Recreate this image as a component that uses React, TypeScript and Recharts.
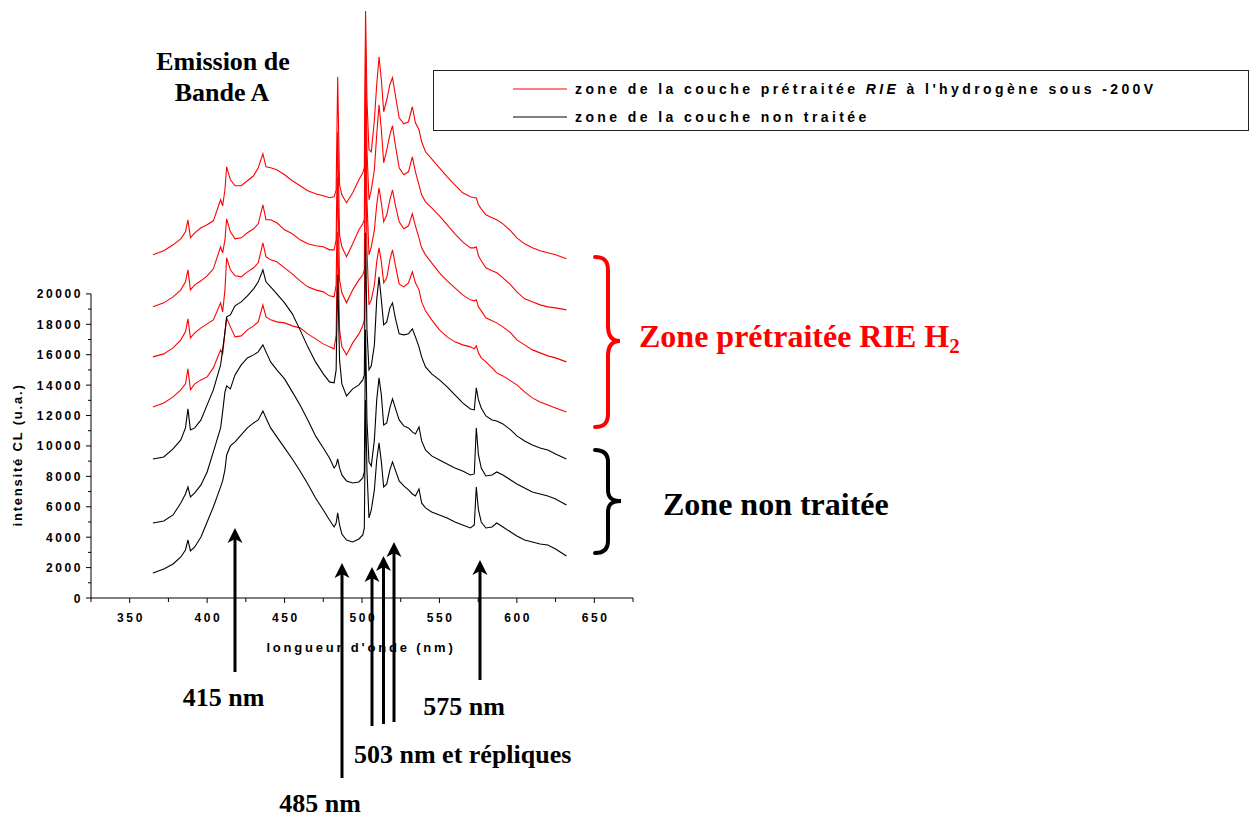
import React from "react";
import { LineChart, Line, XAxis, YAxis, ReferenceLine } from "recharts";

// wavelength grid (nm) shared by all spectra
const wavelengths = [
  365, 372, 378, 383, 386, 387.6, 389.2, 392, 396, 400, 404, 408.7, 410, 411.5, 412.6, 415, 418, 422, 426, 430,
  433, 436, 438, 441, 445, 450, 455, 460, 465, 470, 475, 479, 482, 483.3, 484.3, 485.5, 487, 490, 494, 498,
  500.5, 501.5, 502.3, 503.2, 504.5, 506, 508, 509.5, 511, 512.5, 514, 516, 518, 519.7, 521.5, 524, 527, 530,
  532.5, 534.5, 536.8, 538.5, 541, 545, 550, 555, 560, 565, 570, 572.5, 573.8, 575.2, 577, 580, 584, 587, 591,
  596, 600, 605, 610, 615, 620, 625, 632,
];

// zone non traitée (black)
const noir1 = [
  1645, 1908, 2237, 2698, 3158, 3816, 3093, 3356, 4014, 5000, 5988, 7304, 7699, 8422, 9409, 10002, 10265, 10725, 11186, 11515,
  11712, 12305, 11844, 11186, 10594, 9870, 9146, 8357, 7501, 6580, 5790, 5132, 4672, 4935, 5593, 4803, 4211, 3816, 3685, 3882,
  4145, 4606, 13028, 8422, 5264, 5790, 7106, 9080, 10199, 8949, 7304, 7501, 8422, 8949, 8422, 7699, 7370, 7106,
  6843, 6712, 7172, 6251, 5922, 5659, 5461, 5264, 5000, 4803, 4606, 4803, 7304, 5790, 5000, 4606, 4672, 4935, 4672,
  4343, 4080, 3816, 3685, 3553, 3487, 3224, 2764,
];
const noir2 = [
  4935, 5066, 5461, 6251, 6843, 7304, 6646, 6909, 7435, 8291, 9607, 11186, 12239, 13555, 13950, 13752, 14673, 15331, 15792, 15989,
  16187, 16647, 16187, 15529, 15002, 14410, 13555, 12699, 11712, 10660, 9870, 9212, 8554, 8751, 9146, 8554, 8093, 7699, 7567, 7633,
  7896, 8291, 17634, 11712, 8949, 8686, 10396, 13028, 14476, 13357, 11383, 11515, 12502, 13094, 12502, 11712, 11318, 11186,
  10923, 10791, 11252, 10331, 9738, 9344, 9080, 8817, 8554, 8357, 8093, 8159, 11186, 9409, 8554, 8028, 8093, 8291, 8093,
  7764, 7501, 7238, 6975, 6843, 6712, 6514, 6119,
];
const noir3 = [
  9146, 9278, 9804, 10396, 11186, 12436, 11054, 11186, 11712, 12699, 13686, 15331, 16318, 17503, 18490, 18621, 19214, 19477, 19872, 20332,
  20793, 21582, 20793, 20464, 20003, 19411, 18687, 17634, 16516, 15529, 14739, 14213, 14147, 15002, 21253, 15660, 14081, 13292, 13752, 14015,
  14344, 14673, 24017, 17634, 15002, 15266, 16647, 19608, 21122, 19608, 17963, 18161, 19082, 19411, 18424, 17371, 17305, 17371,
  17700, 17174, 16516, 15858, 15200, 14739, 14344, 13884, 13357, 12831, 12436, 12370, 13818, 13028, 12502, 11976, 11712, 11647, 11449,
  11054, 10660, 10331, 10067, 9870, 9738, 9475, 9146,
];

// zone prétraitée RIE H2 (red)
const rouge1 = [
  12568, 12831, 13226, 13686, 14081, 15068, 13686, 14081, 14344, 14542, 15134, 16318, 16055, 17437, 18424, 17832, 17174, 17240, 17634, 17898,
  18161, 19279, 18490, 18292, 18161, 18095, 17898, 17766, 17371, 17042, 16713, 16516, 16384, 17305, 24083, 17634, 16516, 15989, 16779, 17371,
  17898, 18292, 30136, 22898, 19279, 19608, 20595, 22109, 23030, 22109, 20727, 21056, 22240, 22898, 21911, 20661, 20464, 20727,
  21451, 20727, 20266, 19477, 18885, 18292, 17634, 17174, 16845, 16647, 16516, 16384, 16582, 16121, 15792, 15529, 15134, 14805, 14608,
  14279, 14015, 13555, 13160, 12897, 12699, 12502, 12239,
];
const rouge2 = [
  15858, 16055, 16450, 16976, 17503, 18358, 17108, 17437, 17766, 18029, 18292, 19411, 18819, 20266, 22372, 21582, 21188, 21122, 21451, 21714,
  22043, 23359, 22438, 22240, 22109, 21714, 21319, 20859, 20464, 20266, 20135, 19872, 19806, 20595, 27702, 20924, 20069, 19411, 20266, 20924,
  21253, 21582, 33426, 26188, 22569, 23096, 24214, 25859, 26978, 25991, 24741, 25201, 26188, 26846, 25859, 24741, 24280, 24478,
  25267, 24478, 23688, 23030, 22569, 22043, 21385, 20859, 20398, 19937, 19608, 19543, 19608, 19148, 18885, 18424, 18227, 18095, 17832,
  17437, 16976, 16647, 16318, 16121, 15924, 15792, 15529,
];
const rouge3 = [
  19148, 19411, 19806, 20266, 20793, 21582, 20266, 20595, 20859, 21188, 21648, 23096, 22701, 23556, 24938, 24083, 23622, 23688, 24017, 24280,
  24609, 25859, 24872, 24872, 24675, 24214, 23951, 23556, 23293, 23162, 23096, 22898, 22898, 23556, 30663, 23885, 23096, 22438, 23293, 24214,
  24609, 24872, 36387, 29478, 26188, 26846, 28162, 30465, 32439, 30794, 28623, 29478, 30465, 31058, 29807, 28294, 27833, 28031,
  29018, 28031, 27175, 26517, 26057, 25662, 25136, 24543, 23951, 23425, 23030, 23030, 23096, 22504, 22175, 21714, 21517, 21385, 21056,
  20595, 20135, 19674, 19477, 19279, 19148, 19082, 18950,
];
const rouge4 = [
  22569, 22833, 23227, 23622, 24083, 24872, 23688, 24017, 24346, 24543, 24807, 26188, 25794, 26846, 28360, 27504, 27110, 27110, 27439, 27768,
  28294, 29215, 28360, 28294, 28162, 27833, 27439, 27110, 26781, 26583, 26452, 26320, 26386, 26846, 34282, 27175, 26517, 25991, 26649, 27504,
  27965, 28294, 38600, 32768, 29478, 29347, 31452, 33755, 35598, 34084, 31979, 32768, 33755, 34216, 33097, 31584, 31189, 31321,
  32308, 31255, 30794, 30005, 29347, 28886, 28294, 27702, 27175, 26649, 26386, 26320, 26320, 25859, 25596, 25201, 25004, 24872, 24609,
  24149, 23688, 23293, 23030, 22833, 22701, 22569, 22306,
];

const xTicks = [325, 350, 375, 400, 425, 450, 475, 500, 525, 550, 575, 600, 625, 650, 675];
const yTicks = [
  0, 1000, 2000, 3000, 4000, 5000, 6000, 7000, 8000, 9000, 10000, 11000, 12000, 13000, 14000, 15000, 16000, 17000, 18000,
  19000, 20000,
];

const data = wavelengths.map((nm, i) => ({
  nm,
  n1: noir1[i],
  n2: noir2[i],
  n3: noir3[i],
  r1: rouge1[i],
  r2: rouge2[i],
  r3: rouge3[i],
  r4: rouge4[i],
}));

const W = 1251;
const H = 819;
const PLOT_LEFT = 91;
const PLOT_BOTTOM = 598;
const SANS = "'Liberation Sans', Arial, sans-serif";
const SERIF = "'Liberation Serif', 'Times New Roman', serif";

const YTick = (props: any) => {
  const { y, payload } = props;
  const v = payload.value;
  const major = v % 2000 === 0;
  return (
    <g>
      <line x1={PLOT_LEFT - (major ? 5 : 3)} x2={PLOT_LEFT} y1={y} y2={y} stroke="#000" />
      {major && (
        <text x={PLOT_LEFT - 8} y={y + 4.5} textAnchor="end" fontFamily={SANS} fontWeight="bold" fontSize={12} letterSpacing={2.6} fill="#000">
          {v}
        </text>
      )}
    </g>
  );
};

const XTick = (props: any) => {
  const { x, payload } = props;
  const v = payload.value;
  const major = v % 50 === 0;
  return (
    <g>
      <line x1={x} x2={x} y1={PLOT_BOTTOM} y2={PLOT_BOTTOM + (major ? 5 : 4)} stroke="#000" />
      {major && (
        <text x={x + 1.3} y={PLOT_BOTTOM + 23.5} textAnchor="middle" fontFamily={SANS} fontWeight="bold" fontSize={12} letterSpacing={2.6} fill="#000">
          {v}
        </text>
      )}
    </g>
  );
};

// annotation arrows: x, tip y, tail y (pixels)
const arrows = [
  [235, 528, 672],
  [342, 563, 778],
  [372, 567, 726],
  [383.5, 556, 724],
  [394, 542, 722],
  [480, 560, 680],
];

const Arrow = ({ x, tip, tail }: { x: number; tip: number; tail: number }) => (
  <g>
    <line x1={x} x2={x} y1={tip + 8} y2={tail} stroke="#000" strokeWidth={3} />
    <polygon points={`${x},${tip} ${x + 7.5},${tip + 15} ${x},${tip + 11} ${x - 7.5},${tip + 15}`} fill="#000" />
  </g>
);

export default function App() {
  return (
    <div style={{ position: "absolute", left: 0, top: 0, width: W, height: H, background: "#fff" }}>
      <div style={{ position: "absolute", left: 0, top: 0 }}>
        <LineChart width={W} height={H} data={data} margin={{ top: 5, right: W - 633, bottom: H - PLOT_BOTTOM - 30, left: PLOT_LEFT - 60 }}>
          <XAxis
            dataKey="nm"
            type="number"
            domain={[325, 675]}
            ticks={xTicks}
            interval={0}
            tick={<XTick />}
            tickLine={false}
            axisLine={{ stroke: "#000" }}
            height={30}
          />
          <YAxis
            type="number"
            domain={[0, 39000]}
            ticks={yTicks}
            interval={0}
            tick={<YTick />}
            tickLine={false}
            axisLine={false}
            width={60}
          />
          <ReferenceLine segment={[{ x: 325, y: 0 }, { x: 325, y: 20000 }]} stroke="#000" ifOverflow="visible" />
          <Line type="linear" dataKey="r4" stroke="#ff0000" strokeWidth={1.1} dot={false} isAnimationActive={false} />
          <Line type="linear" dataKey="r3" stroke="#ff0000" strokeWidth={1.1} dot={false} isAnimationActive={false} />
          <Line type="linear" dataKey="r2" stroke="#ff0000" strokeWidth={1.1} dot={false} isAnimationActive={false} />
          <Line type="linear" dataKey="r1" stroke="#ff0000" strokeWidth={1.1} dot={false} isAnimationActive={false} />
          <Line type="linear" dataKey="n3" stroke="#000" strokeWidth={1.1} dot={false} isAnimationActive={false} />
          <Line type="linear" dataKey="n2" stroke="#000" strokeWidth={1.1} dot={false} isAnimationActive={false} />
          <Line type="linear" dataKey="n1" stroke="#000" strokeWidth={1.1} dot={false} isAnimationActive={false} />
        </LineChart>
      </div>
      <svg width={W} height={H} style={{ position: "absolute", left: 0, top: 0, pointerEvents: "none" }}>
        {/* axis titles */}
        <text x={361} y={651.5} textAnchor="middle" fontFamily={SANS} fontWeight="bold" fontSize={13} letterSpacing={2.8} fill="#000">
          longueur d'onde (nm)
        </text>
        <text
          transform="translate(22,455) rotate(-90)"
          textAnchor="middle"
          fontFamily={SANS}
          fontWeight="bold"
          fontSize={13}
          letterSpacing={1.8}
          fill="#000"
        >
          intensité CL (u.a.)
        </text>

        {/* title */}
        <text x={223} y={70} textAnchor="middle" fontFamily={SERIF} fontWeight="bold" fontSize={26} fill="#000">
          Emission de
        </text>
        <text x={222} y={101} textAnchor="middle" fontFamily={SERIF} fontWeight="bold" fontSize={26} fill="#000">
          Bande A
        </text>

        {/* legend */}
        <rect x={433.5} y={70.5} width={815} height={60} fill="#fff" stroke="#222" strokeWidth={1} />
        <line x1={513} x2={567} y1={89} y2={89} stroke="#ff0000" strokeWidth={1} />
        <line x1={513} x2={567} y1={117} y2={117} stroke="#000" strokeWidth={1} />
        <text x={575} y={94} fontFamily={SANS} fontWeight="bold" fontSize={14} letterSpacing={3.4} fill="#000">
          zone de la couche prétraitée <tspan fontStyle="italic">RIE</tspan> à l'hydrogène sous -200V
        </text>
        <text x={575} y={122} fontFamily={SANS} fontWeight="bold" fontSize={14} letterSpacing={3.4} fill="#000">
          zone de la couche non traitée
        </text>

        {/* braces */}
        <path
          d="M 595 257 C 603 257, 608 260, 608 270 L 608 326 C 608 336, 612 341, 620 341 C 612 341, 608 346, 608 356 L 608 414 C 608 424, 603 427, 595 427"
          fill="none"
          stroke="#ff0000"
          strokeWidth={4}
          strokeLinecap="round"
        />
        <path
          d="M 595 450 C 603 450, 608 453, 608 462 L 608 490 C 608 498, 612 501, 621 501 C 612 501, 608 504, 608 512 L 608 541 C 608 550, 603 553, 595 553"
          fill="none"
          stroke="#000"
          strokeWidth={4}
          strokeLinecap="round"
        />
        <text x={639} y={347} fontFamily={SERIF} fontWeight="bold" fontSize={32} fill="#ff0000">
          Zone prétraitée RIE H<tspan fontSize={21} dy={6}>2</tspan>
        </text>
        <text x={663} y={515} fontFamily={SERIF} fontWeight="bold" fontSize={32} fill="#000">
          Zone non traitée
        </text>

        {/* arrows and labels */}
        {arrows.map(([x, tip, tail], i) => (
          <Arrow key={i} x={x} tip={tip} tail={tail} />
        ))}
        <text x={223.5} y={706} textAnchor="middle" fontFamily={SERIF} fontWeight="bold" fontSize={26} fill="#000">
          415 nm
        </text>
        <text x={320} y={812} textAnchor="middle" fontFamily={SERIF} fontWeight="bold" fontSize={26} fill="#000">
          485 nm
        </text>
        <text x={354} y={763} fontFamily={SERIF} fontWeight="bold" fontSize={26} fill="#000">
          503 nm et répliques
        </text>
        <text x={464} y={715} textAnchor="middle" fontFamily={SERIF} fontWeight="bold" fontSize={26} fill="#000">
          575 nm
        </text>
      </svg>
    </div>
  );
}
